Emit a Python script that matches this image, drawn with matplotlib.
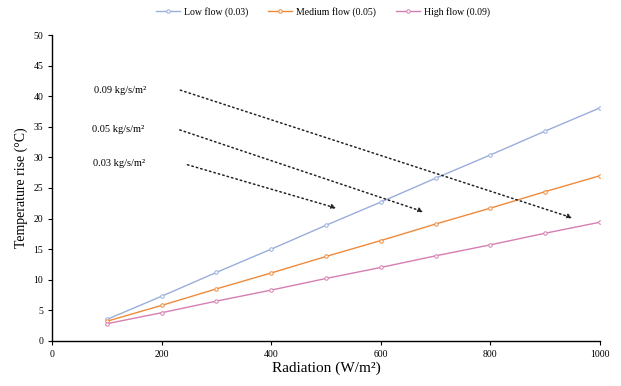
import matplotlib
matplotlib.use("Agg")
import matplotlib.pyplot as plt

# Datos
radiation = [100, 200, 300, 400, 500, 600, 700, 800, 900, 1000]
low_flow = [3.5, 7.3, 11.2, 15.0, 18.9, 22.7, 26.6, 30.4, 34.3, 38.1]
medium_flow = [3.2, 5.8, 8.5, 11.1, 13.8, 16.4, 19.1, 21.7, 24.4, 27.0]
high_flow = [2.8, 4.6, 6.5, 8.3, 10.2, 12.0, 13.9, 15.7, 17.6, 19.4]

series_labels = ["Low flow (0.03)", "Medium flow (0.05)", "High flow (0.09)"]
series_colors = ["#9aaedb", "#ee8a3c", "#d67fb2"]

annot_labels = ["0.09 kg/s/m²", "0.05 kg/s/m²", "0.03 kg/s/m²"]
annot_text = [(77, 41.0), (73, 34.6), (75, 29.0)]
annot_tail = [(234, 41.0), (233, 34.5), (247, 28.8)]
annot_head = [(950, 20.1), (678, 21.1), (519, 21.7)]

plt.rcParams["font.family"] = ["Liberation Serif", "DejaVu Serif"]

fig = plt.figure(figsize=(6.21, 3.86), dpi=100)
ax = fig.add_axes([0.084, 0.117, 0.882, 0.792])

for vals, lab, col in zip([low_flow, medium_flow, high_flow], series_labels, series_colors):
    ax.plot(radiation, vals, color=col, lw=1.0, marker="o", ms=2.5,
            markerfacecolor="white", markeredgecolor=col, markeredgewidth=0.7, label=lab)

for txt, tpos, tail, head in zip(annot_labels, annot_text, annot_tail, annot_head):
    ax.text(tpos[0], tpos[1], txt, fontsize=7.5, va="center", ha="left")
    ax.annotate("", xy=head, xytext=tail,
                arrowprops=dict(arrowstyle="-|>", linestyle=(0, (1, 2)), color="#222222",
                                lw=1.1, mutation_scale=7, shrinkA=0, shrinkB=0))

ax.set_xlim(0, 1000)
ax.set_ylim(0, 50)
ax.set_xticks([0, 200, 400, 600, 800, 1000])
ax.set_yticks(range(0, 55, 5))
ax.tick_params(labelsize=7, length=3, width=0.8, direction="out")
ax.spines["top"].set_visible(False)
ax.spines["right"].set_visible(False)
ax.spines["left"].set_linewidth(1.0)
ax.spines["bottom"].set_linewidth(1.0)

ax.set_xlabel("Radiation (W/m²)", fontsize=11, labelpad=2)
ax.set_ylabel("Temperature rise (°C)", fontsize=10, labelpad=4)

fig.legend(loc="upper center", bbox_to_anchor=(0.52, 1.005), ncol=3, frameon=False,
           fontsize=7, handlelength=2.5, columnspacing=2.0, handletextpad=0.4)

fig.savefig("out.png", dpi=100)
